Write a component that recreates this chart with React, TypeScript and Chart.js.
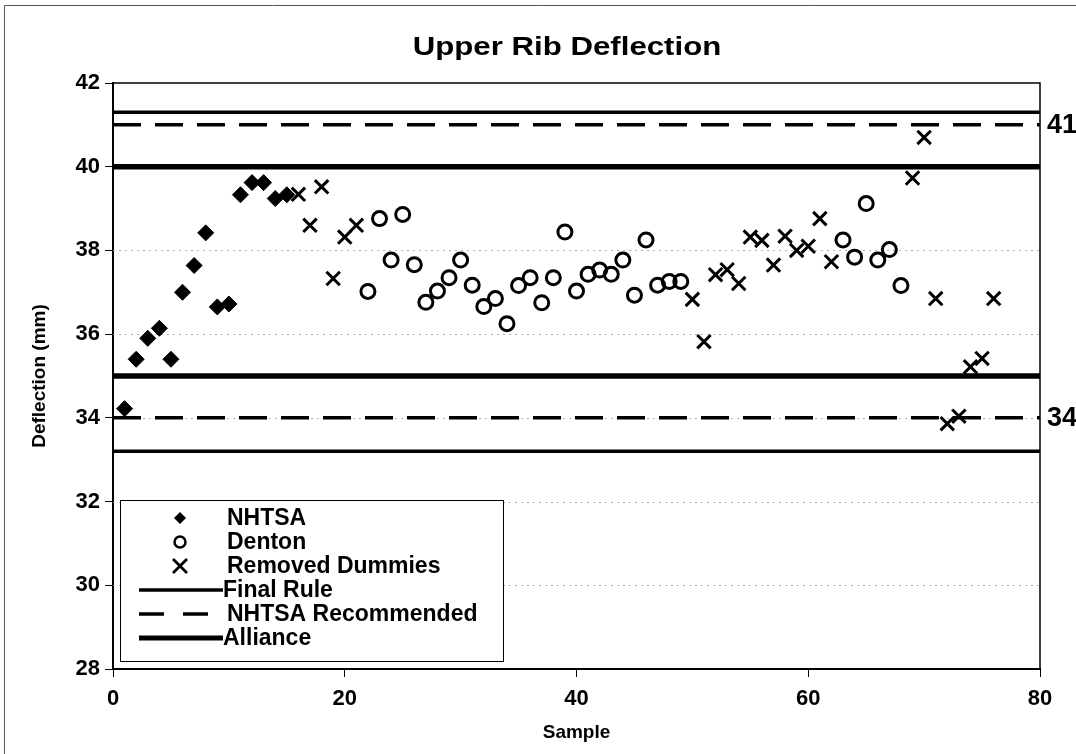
import React, { useEffect, useRef } from 'react';
import { Chart, registerables } from 'chart.js';

Chart.register(...registerables);

const FONT = "'Liberation Sans', Arial, Helvetica, sans-serif";

// ---------- data ----------
const chartTitle = 'Upper Rib Deflection';
const xAxisTitle = 'Sample';
const yAxisTitle = 'Deflection (mm)';
const xRange = [0, 80];
const yRange = [28, 42];
const xStep = 20;
const yStep = 2;

const nhtsaSamples = [1, 2, 3, 4, 5, 6, 7, 8, 9, 10, 11, 12, 13, 14, 15];
const nhtsaValues = [34.22, 35.4, 35.9, 36.14, 35.4, 37.0, 37.64, 38.42, 36.65, 36.72, 39.33, 39.62, 39.62, 39.24, 39.33];

const dentonSamples = [22, 23, 24, 25, 26, 27, 28, 29, 30, 31, 32, 33, 34, 35, 36, 37, 38, 39, 40, 41, 42, 43, 44, 45, 46, 47, 48, 49, 63, 64, 65, 66, 67, 68];
const dentonValues = [37.02, 38.76, 37.77, 38.86, 37.66, 36.76, 37.03, 37.35, 37.77, 37.17, 36.66, 36.85, 36.25, 37.16, 37.35, 36.75, 37.35, 38.44, 37.03, 37.43, 37.53, 37.43, 37.77, 36.93, 38.25, 37.17, 37.26, 37.26, 38.25, 37.84, 39.12, 37.77, 38.02, 37.16];

const removedSamples = [16, 17, 18, 19, 20, 21, 50, 51, 52, 53, 54, 55, 56, 57, 58, 59, 60, 61, 62, 69, 70, 71, 72, 73, 74, 75, 76];
const removedValues = [39.34, 38.6, 39.52, 37.33, 38.32, 38.6, 36.83, 35.82, 37.42, 37.54, 37.21, 38.32, 38.24, 37.65, 38.34, 38.0, 38.1, 38.76, 37.73, 39.73, 40.7, 36.85, 33.86, 34.04, 35.22, 35.42, 36.85];

const finalRuleLimits = [33.2, 41.3];
const nhtsaRecommendedLimits = [34, 41];
const allianceLimits = [35, 40];
const sideLabels = ['41', '34'];
const sideLabelValues = [41, 34];

const legendLabels = ['NHTSA', 'Denton', 'Removed Dummies', 'Final Rule', 'NHTSA Recommended', 'Alliance'];

// ---------- styles ----------
const DASH = [28, 14];

const pts = (xs: number[], ys: number[]) => xs.map((x, i) => ({ x, y: ys[i] }));
const hline = (v: number) => [{ x: xRange[0], y: v }, { x: xRange[1], y: v }];

const lineDs = (label: string, v: number, width: number, dash: number[]) => ({
  type: 'line' as const,
  label,
  data: hline(v),
  borderColor: '#000',
  borderWidth: width,
  borderDash: dash,
  pointRadius: 0,
  fill: false,
  showLine: true,
  tension: 0,
});

const customPlugin = {
  id: 'customDraw',
  beforeDatasetsDraw(chart: any) {
    const { ctx, chartArea } = chart;
    const y = chart.scales.y;
    ctx.save();
    ctx.strokeStyle = '#b0b0b0';
    ctx.lineWidth = 1;
    ctx.setLineDash([2, 4]);
    for (let v = yRange[0] + yStep; v < yRange[1]; v += yStep) {
      const py = Math.round(y.getPixelForValue(v)) + 0.5;
      ctx.beginPath();
      ctx.moveTo(chartArea.left, py);
      ctx.lineTo(chartArea.right, py);
      ctx.stroke();
    }
    ctx.restore();
  },
  afterDraw(chart: any) {
    const { ctx, chartArea } = chart;
    const yS = chart.scales.y;
    ctx.save();
    // outer border
    ctx.strokeStyle = '#555';
    ctx.lineWidth = 1;
    ctx.setLineDash([]);
    ctx.beginPath();
    ctx.moveTo(4.5, 754);
    ctx.lineTo(4.5, 5.5);
    ctx.lineTo(1076, 5.5);
    ctx.stroke();

    // plot frame top/right
    ctx.strokeStyle = '#000';
    ctx.lineWidth = 1.5;
    ctx.beginPath();
    ctx.moveTo(chartArea.left, chartArea.top);
    ctx.lineTo(chartArea.right, chartArea.top);
    ctx.lineTo(chartArea.right, chartArea.bottom);
    ctx.stroke();

    // title (slightly stretched horizontally like the scan)
    ctx.fillStyle = '#000';
    ctx.font = `bold 26px ${FONT}`;
    ctx.textAlign = 'center';
    ctx.textBaseline = 'middle';
    ctx.save();
    ctx.translate(567, 48);
    ctx.scale(1.2, 1);
    ctx.fillText(chartTitle, 0, 0);
    ctx.restore();

    // side labels
    ctx.font = `bold 27px ${FONT}`;
    ctx.textAlign = 'left';
    sideLabels.forEach((t, i) => {
      ctx.fillText(t, chartArea.right + 7, yS.getPixelForValue(sideLabelValues[i]) + 1);
    });

    // legend
    const bx = 120, by = 500, bw = 383, bh = 161;
    ctx.fillStyle = '#fff';
    ctx.fillRect(bx, by, bw, bh);
    ctx.strokeStyle = '#000';
    ctx.lineWidth = 1;
    ctx.strokeRect(bx + 0.5, by + 0.5, bw, bh);
    const rowY = (i: number) => 518 + i * 24;
    const mx = 180;
    ctx.fillStyle = '#000';
    // diamond
    let cy = rowY(0);
    ctx.beginPath();
    ctx.moveTo(mx, cy - 6);
    ctx.lineTo(mx + 6, cy);
    ctx.lineTo(mx, cy + 6);
    ctx.lineTo(mx - 6, cy);
    ctx.closePath();
    ctx.fill();
    // circle
    cy = rowY(1);
    ctx.lineWidth = 2.5;
    ctx.beginPath();
    ctx.arc(mx, cy, 5.5, 0, Math.PI * 2);
    ctx.stroke();
    // cross
    cy = rowY(2);
    ctx.lineWidth = 2.8;
    ctx.beginPath();
    ctx.moveTo(mx - 7, cy - 7);
    ctx.lineTo(mx + 7, cy + 7);
    ctx.moveTo(mx + 7, cy - 7);
    ctx.lineTo(mx - 7, cy + 7);
    ctx.stroke();
    // lines
    ctx.lineWidth = 3.5;
    ctx.beginPath();
    ctx.moveTo(139, rowY(3));
    ctx.lineTo(223, rowY(3));
    ctx.stroke();
    ctx.setLineDash([25, 19]);
    ctx.beginPath();
    ctx.moveTo(139, rowY(4));
    ctx.lineTo(210, rowY(4));
    ctx.stroke();
    ctx.setLineDash([]);
    ctx.lineWidth = 5;
    ctx.beginPath();
    ctx.moveTo(139, rowY(5));
    ctx.lineTo(223, rowY(5));
    ctx.stroke();
    // texts
    ctx.font = `bold 23px ${FONT}`;
    ctx.textAlign = 'left';
    ctx.textBaseline = 'middle';
    legendLabels.forEach((t, i) => {
      ctx.fillText(t, i >= 3 && i !== 4 ? 223 : 227, rowY(i) + 1);
    });
    ctx.restore();
  },
};

export default function App() {
  const ref = useRef<HTMLCanvasElement>(null);
  useEffect(() => {
    const tickFont = { family: FONT, size: 22, weight: 'bold' as const };
    const titleFont = { family: FONT, size: 19, weight: 'bold' as const };
    const chart = new Chart(ref.current!, {
      type: 'scatter',
      data: {
        datasets: [
          {
            label: 'NHTSA',
            data: pts(nhtsaSamples, nhtsaValues),
            pointStyle: 'rectRot',
            pointRadius: 8,
            backgroundColor: '#000',
            borderColor: '#000',
            borderWidth: 1,
          },
          {
            label: 'Denton',
            data: pts(dentonSamples, dentonValues),
            pointStyle: 'circle',
            pointRadius: 7,
            backgroundColor: 'rgba(255,255,255,0)',
            borderColor: '#000',
            borderWidth: 3,
          },
          {
            label: 'Removed Dummies',
            data: pts(removedSamples, removedValues),
            pointStyle: 'crossRot',
            pointRadius: 9.5,
            backgroundColor: '#000',
            borderColor: '#000',
            borderWidth: 3,
          },
          lineDs('Final Rule', finalRuleLimits[1], 3.5, []),
          lineDs('Final Rule', finalRuleLimits[0], 3.5, []),
          lineDs('NHTSA Recommended', nhtsaRecommendedLimits[1], 3.5, DASH),
          lineDs('NHTSA Recommended', nhtsaRecommendedLimits[0], 3.5, DASH),
          lineDs('Alliance', allianceLimits[1], 5.5, []),
          lineDs('Alliance', allianceLimits[0], 5.5, []),
        ] as any,
      },
      options: {
        responsive: false,
        animation: false,
        layout: { padding: { top: 83, right: 36, left: 0, bottom: 0 } },
        plugins: {
          legend: { display: false },
          tooltip: { enabled: false },
          title: { display: false },
        },
        scales: {
          x: {
            type: 'linear',
            min: xRange[0],
            max: xRange[1],
            ticks: { stepSize: xStep, color: '#000', font: tickFont, padding: 9, maxRotation: 0 },
            grid: { drawOnChartArea: false, tickLength: 8, tickColor: '#000', tickWidth: 1 },
            border: { color: '#000', width: 2 },
            title: { display: true, text: xAxisTitle, color: '#000', font: titleFont, padding: { top: 0, bottom: 10 } },
            afterFit: (s: any) => { s.height = 85; },
          },
          y: {
            type: 'linear',
            min: yRange[0],
            max: yRange[1],
            ticks: { stepSize: yStep, color: '#000', font: tickFont, padding: 5 },
            grid: { drawOnChartArea: false, tickLength: 8, tickColor: '#000', tickWidth: 1 },
            border: { color: '#000', width: 2 },
            title: { display: true, text: yAxisTitle, color: '#000', font: titleFont, padding: { top: 28, bottom: 0 } },
            afterFit: (s: any) => { s.width = 113; },
          },
        },
      } as any,
      plugins: [customPlugin],
    });
    return () => chart.destroy();
  }, []);
  return (
    <div style={{ position: 'fixed', left: 0, top: 0, width: 1076, height: 754, background: '#fff' }}>
      <canvas ref={ref} width={1076} height={754} style={{ width: 1076, height: 754, display: 'block' }} />
    </div>
  );
}
